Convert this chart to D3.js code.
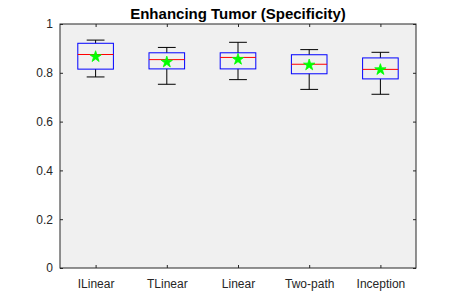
<!DOCTYPE html>
<html>
<head>
<meta charset="utf-8">
<script src="https://cdn.jsdelivr.net/npm/d3@7"></script>
<style>
  body { margin: 0; background: #fff; }
  text { font-family: "Liberation Sans", Arial, sans-serif; }
</style>
</head>
<body>
<svg id="chart" width="460" height="302"></svg>
<script>
const categories = ["ILinear", "TLinear", "Linear", "Two-path", "Inception"];
const whiskerLow  = [0.783, 0.753, 0.772, 0.732, 0.712];
const q1          = [0.815, 0.816, 0.816, 0.796, 0.775];
const medians     = [0.875, 0.854, 0.863, 0.835, 0.814];
const q3          = [0.921, 0.882, 0.882, 0.874, 0.861];
const whiskerHigh = [0.934, 0.904, 0.925, 0.895, 0.884];
const means       = [0.866, 0.844, 0.855, 0.832, 0.813];
const yTicks = [0, 0.2, 0.4, 0.6, 0.8, 1];

const margin = {top: 24, right: 44, bottom: 34, left: 60};
const width = 460, height = 302;

const data = categories.map((c, i) => ({
  name: c, lo: whiskerLow[i], q1: q1[i], med: medians[i],
  q3: q3[i], hi: whiskerHigh[i], mean: means[i]
}));

const svg = d3.select("#chart");

const x = d3.scalePoint()
    .domain(categories)
    .range([margin.left, width - margin.right])
    .padding(0.5);
const step = x.step();

const y = d3.scaleLinear()
    .domain([0, 1])
    .range([height - margin.bottom, margin.top]);

// axes background
svg.append("rect")
    .attr("x", margin.left)
    .attr("y", margin.top)
    .attr("width", width - margin.left - margin.right)
    .attr("height", height - margin.top - margin.bottom)
    .attr("fill", "#f0f0f0");

const axisColor = "#262626";

svg.append("g")
    .attr("transform", `translate(0,${height - margin.bottom})`)
    .call(d3.axisBottom(x).tickSizeInner(-3).tickSizeOuter(0).tickPadding(11.5))
    .call(g => g.select(".domain").remove())
    .call(g => g.selectAll("line").attr("stroke", axisColor))
    .call(g => g.selectAll("text").attr("fill", axisColor).attr("font-size", 12));

svg.append("g")
    .attr("transform", `translate(0,${margin.top})`)
    .call(d3.axisTop(x).tickSizeInner(-3).tickSizeOuter(0).tickFormat(""))
    .call(g => g.select(".domain").remove())
    .call(g => g.selectAll("line").attr("stroke", axisColor));

svg.append("g")
    .attr("transform", `translate(${margin.left},0)`)
    .call(d3.axisLeft(y).tickValues(yTicks).tickFormat(d3.format("~g"))
      .tickSizeInner(-3).tickSizeOuter(0).tickPadding(7))
    .call(g => g.select(".domain").remove())
    .call(g => g.selectAll("line").attr("stroke", axisColor))
    .call(g => g.selectAll("text").attr("fill", axisColor).attr("font-size", 12));

svg.append("g")
    .attr("transform", `translate(${width - margin.right},0)`)
    .call(d3.axisRight(y).tickValues(yTicks).tickFormat("")
      .tickSizeInner(-3).tickSizeOuter(0))
    .call(g => g.select(".domain").remove())
    .call(g => g.selectAll("line").attr("stroke", axisColor));

// frame
svg.append("rect")
    .attr("x", margin.left)
    .attr("y", margin.top)
    .attr("width", width - margin.left - margin.right)
    .attr("height", height - margin.top - margin.bottom)
    .attr("fill", "none")
    .attr("stroke", axisColor)
    .attr("stroke-width", 1);

const boxW = step * 0.5;
const capW = step * 0.25;

const box = svg.append("g").selectAll("g")
    .data(data)
    .join("g");

// whiskers
box.append("line")
    .attr("x1", d => x(d.name)).attr("x2", d => x(d.name))
    .attr("y1", d => y(d.q3)).attr("y2", d => y(d.hi))
    .attr("stroke", "#000");
box.append("line")
    .attr("x1", d => x(d.name)).attr("x2", d => x(d.name))
    .attr("y1", d => y(d.q1)).attr("y2", d => y(d.lo))
    .attr("stroke", "#000");
box.append("line")
    .attr("x1", d => x(d.name) - capW / 2).attr("x2", d => x(d.name) + capW / 2)
    .attr("y1", d => y(d.hi)).attr("y2", d => y(d.hi))
    .attr("stroke", "#000");
box.append("line")
    .attr("x1", d => x(d.name) - capW / 2).attr("x2", d => x(d.name) + capW / 2)
    .attr("y1", d => y(d.lo)).attr("y2", d => y(d.lo))
    .attr("stroke", "#000");

// box
box.append("rect")
    .attr("x", d => x(d.name) - boxW / 2)
    .attr("y", d => y(d.q3))
    .attr("width", boxW)
    .attr("height", d => y(d.q1) - y(d.q3))
    .attr("fill", "none")
    .attr("stroke", "#0000ff");

// median
box.append("line")
    .attr("x1", d => x(d.name) - boxW / 2).attr("x2", d => x(d.name) + boxW / 2)
    .attr("y1", d => y(d.med)).attr("y2", d => y(d.med))
    .attr("stroke", "#ff0000");

// mean star
const star = d3.symbol().type(d3.symbolStar).size(40);
box.append("path")
    .attr("d", star)
    .attr("transform", d => `translate(${x(d.name)},${y(d.mean)})`)
    .attr("fill", "#00ff00")
    .attr("stroke", "#00ff00")
    .attr("stroke-width", 0.8);

// title
svg.append("text")
    .attr("x", (margin.left + width - margin.right) / 2)
    .attr("y", 18.5)
    .attr("text-anchor", "middle")
    .attr("font-size", 15)
    .attr("font-weight", "bold")
    .attr("fill", "#000")
    .text("Enhancing Tumor (Specificity)");
</script>
</body>
</html>
